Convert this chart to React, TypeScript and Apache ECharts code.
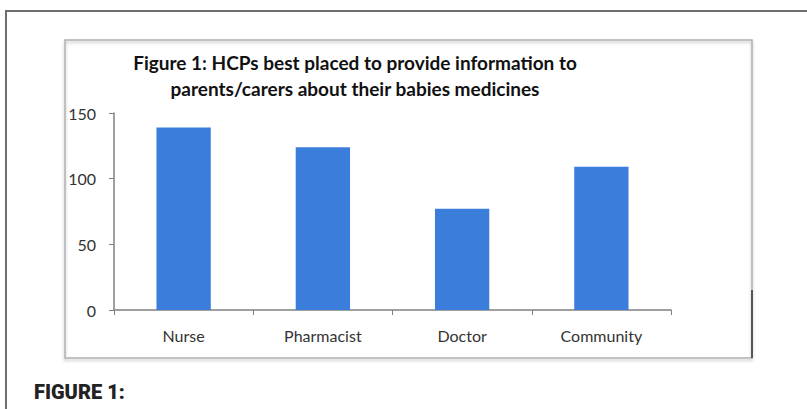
import React, { useEffect, useRef } from "react";
import * as echarts from "echarts";

const categories = ["Nurse", "Pharmacist", "Doctor", "Community"];
const values = [139, 124, 77, 109];
const yTicks = { min: 0, max: 150, interval: 50 };
const titleLines = [
  "Figure 1: HCPs best placed to provide information to",
  "parents/carers about their babies medicines",
];
const caption = "FIGURE 1:";

export default function App() {
  const ref = useRef<HTMLDivElement>(null);
  useEffect(() => {
    const chart = echarts.init(ref.current!, null, { renderer: "svg" });
    chart.setOption({
      animation: false,
      backgroundColor: "#ffffff",
      grid: { left: 114, right: 136, top: 113, bottom: 99, containLabel: false },
      xAxis: {
        type: "category",
        data: categories,
        axisLine: { show: true, lineStyle: { color: "#808080", width: 1.5 } },
        axisTick: { show: true, length: 5, lineStyle: { color: "#808080" } },
        axisLabel: { margin: 17, fontSize: 16, color: "#333", fontFamily: "Lato" },
      },
      yAxis: {
        type: "value",
        min: yTicks.min,
        max: yTicks.max,
        interval: yTicks.interval,
        splitLine: { show: false },
        axisLine: { show: true, lineStyle: { color: "#808080", width: 1.5 } },
        axisTick: { show: true, length: 5, lineStyle: { color: "#808080" } },
        axisLabel: { margin: 18, fontSize: 16, color: "#333", fontFamily: "Lato" },
      },
      series: [
        {
          type: "bar",
          data: values,
          barWidth: "39%",
          itemStyle: { color: "#3b7ddb" },
        },
      ],
      graphic: [
        {
          type: "polyline",
          shape: { points: [[6, 409], [6, 11], [807, 11]] },
          style: { stroke: "#6e6e6e", lineWidth: 2, fill: "none" },
          z: 10,
        },
        {
          type: "rect",
          shape: { x: 65, y: 40, width: 687, height: 318 },
          style: {
            fill: "none",
            stroke: "#b0b0b0",
            lineWidth: 1.5,
            shadowColor: "rgba(0,0,0,0.25)",
            shadowBlur: 3,
            shadowOffsetY: 2,
          },
          z: 10,
        },
        {
          type: "line",
          shape: { x1: 752, y1: 290, x2: 752, y2: 358 },
          style: { stroke: "#333", lineWidth: 1.5 },
          z: 11,
        },
        {
          type: "text",
          x: 355,
          y: 62,
          style: {
            text: titleLines[0],
            font: "bold 19px Lato",
            fill: "#111",
            align: "center",
            verticalAlign: "middle",
          },
          z: 10,
        },
        {
          type: "text",
          x: 355,
          y: 88,
          style: {
            text: titleLines[1],
            font: "bold 19px Lato",
            fill: "#111",
            align: "center",
            verticalAlign: "middle",
          },
          z: 10,
        },
        {
          type: "text",
          x: 34,
          y: 392,
          style: {
            text: caption,
            font: "900 20px Roboto",
            fill: "#222",
            align: "left",
            verticalAlign: "middle",
          },
          z: 10,
        },
      ],
    });
    return () => chart.dispose();
  }, []);
  return (
    <div
      ref={ref}
      style={{ position: "fixed", left: 0, top: 0, width: 807, height: 409 }}
    />
  );
}
